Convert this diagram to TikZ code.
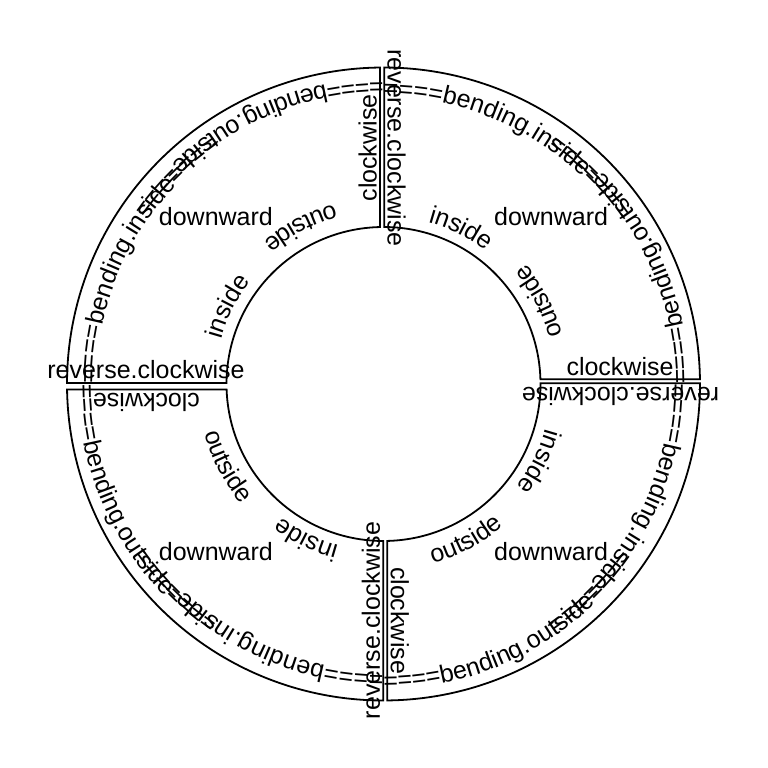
\documentclass[tikz,border=0pt]{standalone}
\usepackage{fontspec}
\setmainfont{Liberation Sans}
\usetikzlibrary{decorations.text}
\newcommand{\lbfont}{\fontsize{25}{30}\selectfont}
\tikzset{
  ring/.style={draw=black, line width=1.8pt, line join=miter},
  lbl/.style={inner sep=0pt, font=\lbfont, anchor=base},
  curvetext/.style={decorate, decoration={text along path, text={|\lbfont|#1}}},
}
\begin{document}
\begin{tikzpicture}[x=1pt,y=1pt]
\useasboundingbox[fill=white] (0,0) rectangle (768,768);
\coordinate (C) at (383.5,384);

% the four ring quarters
\draw[ring, shift={(C)}] (89.855:316.5) arc[start angle=89.855, end angle=0.851, radius=316.5]
  -- (1.715:157) arc[start angle=1.715, end angle=89.708, radius=157] -- cycle;
\draw[ring, shift={(C)}] (90.634:316.5) arc[start angle=90.634, end angle=179.819, radius=316.5]
  -- (179.635:157) arc[start angle=179.635, end angle=91.277, radius=157] -- cycle;
\draw[ring, shift={(C)}] (0.127:316.5) arc[start angle=0.127, end angle=-89.312, radius=316.5]
  -- (-88.613:157) arc[start angle=-88.613, end angle=0.255, radius=157] -- cycle;
\draw[ring, shift={(C)}] (180.996:316.5) arc[start angle=180.996, end angle=269.964, radius=316.5]
  -- (269.927:157) arc[start angle=269.927, end angle=182.008, radius=157] -- cycle;

% text along the arcs
\foreach \a in {0,90,180,270}{
  \path[curvetext={====bending.inside====}, shift={(C)}]
    ({\a+90}:287) arc[start angle=\a+90, end angle=\a, radius=287];
  \path[curvetext={====bending.outside====}, shift={(C)}]
    ({\a}:305) arc[start angle=\a, end angle=\a+90, radius=305];
  \path[curvetext={inside}, shift={(C)}]
    ({\a+74.6}:168) arc[start angle=\a+74.6, end angle=\a, radius=168];
  \path[curvetext={outside}, shift={(C)}]
    ({\a+15.4}:186) arc[start angle=\a+15.4, end angle=\a+90, radius=186];
}

% edge labels
\node[lbl] (trB) at (620,392.5) {clockwise};
\node[lbl, rotate=-90] (trL) at (387.5,620) {reverse.clockwise};
\node[lbl, rotate=90] (tlR) at (376.5,620) {clockwise};
\node[lbl] (tlB) at (146,389.5) {reverse.clockwise};
\node[lbl, rotate=180] (brT) at (620.5,380.9) {reverse.clockwise};
\node[lbl, rotate=-90] (brL) at (390.8,147.5) {clockwise};
\node[lbl, rotate=90] (blR) at (379.8,147.5) {reverse.clockwise};
\node[lbl, rotate=180] (blT) at (146.5,374.7) {clockwise};

% downward labels
\node[lbl, anchor=center] (dTR) at (551.1,551.6) {downward};
\node[lbl, anchor=center] (dTL) at (215.9,551.6) {downward};
\node[lbl, anchor=center] (dBL) at (215.9,216.4) {downward};
\node[lbl, anchor=center] (dBR) at (551.1,216.4) {downward};
\end{tikzpicture}
\end{document}
